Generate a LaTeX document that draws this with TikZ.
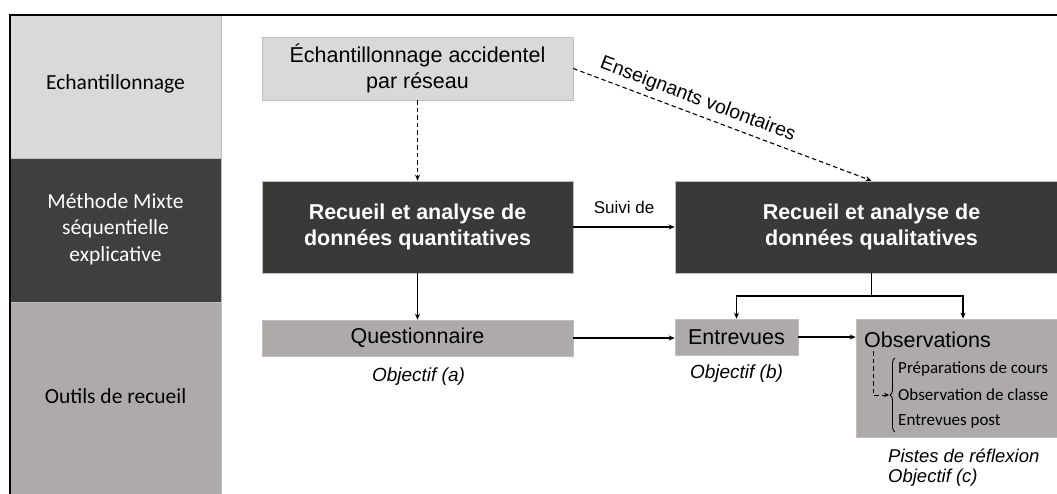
\documentclass[tikz,border=0pt]{standalone}
\usepackage{fontspec}
\setmainfont{Liberation Sans}
\newfontfamily\calfont{Carlito}
\usetikzlibrary{arrows.meta,decorations.pathreplacing}
\definecolor{lgray}{HTML}{D9D9D9}
\definecolor{dgray}{HTML}{3F3F3F}
\definecolor{boxdark}{HTML}{3B3838}
\definecolor{mgray}{HTML}{AEAAAA}
\definecolor{edge}{HTML}{BFBFBF}
\begin{document}
\begin{tikzpicture}[x=1pt,y=-1pt,
  arr/.style={-{Stealth[length=6pt,width=5pt]}, line width=1.1pt},
  dsh/.style={dash pattern=on 4.5pt off 3pt},
  band/.style={rectangle, draw=edge, line width=0.6pt, minimum width=211pt, inner sep=0pt},
  coltxt/.style={font=\calfont\fontsize{21.5}{26.5}\selectfont, align=center, inner sep=0pt},
  boxlight/.style={rectangle, fill=lgray, draw=edge, line width=0.6pt, inner sep=0pt, align=center,
    font=\fontsize{21.5}{26}\selectfont},
  boxdk/.style={rectangle, fill=boxdark, draw=edge, line width=0.6pt, inner sep=0pt, align=center,
    text=white, font=\bfseries\fontsize{21.5}{26}\selectfont},
  boxmid/.style={rectangle, fill=mgray, draw=edge, line width=0.6pt, inner sep=0pt, align=center,
    font=\fontsize{21.5}{26}\selectfont},
  objtxt/.style={font=\itshape\fontsize{19}{24}\selectfont, inner sep=0pt},
  listtxt/.style={font=\calfont\fontsize{17}{20}\selectfont, inner sep=0pt, anchor=west},
]
\useasboundingbox (0,0) rectangle (1057,493);
\clip (0,0) rectangle (1057,493);

% left column bands
\node[band, fill=lgray, minimum height=143pt] (b1) at (115.5,86.5) {};
\node[band, fill=dgray, minimum height=144pt] (b2) at (115.5,230) {};
\node[band, fill=mgray, minimum height=200pt] (b3) at (115.5,402) {};
\node[coltxt] (t1) at (115.5,84) {Echantillonnage};
\node[coltxt, text=white] (t2) at (115.5,229) {Méthode Mixte\\séquentielle\\explicative};
\node[coltxt] (t3) at (115.5,396) {Outils de recueil};

% main boxes
\node[boxlight, minimum width=311pt, minimum height=63pt] (top) at (417.5,68.5)
  {Échantillonnage accidentel\\par réseau};
\node[boxdk, minimum width=311pt, minimum height=92pt] (qtv) at (417.5,227)
  {Recueil et analyse de\\données quantitatives};
\node[boxdk, minimum width=393pt, minimum height=92pt] (qlv) at (871.5,227)
  {Recueil et analyse de\\données qualitatives};
\node[boxmid, minimum width=311pt, minimum height=36pt] (quest) at (417.5,338) {Questionnaire};
\node[boxmid, minimum width=123pt, minimum height=36pt] (entr) at (736.5,337) {Entrevues};
\node[boxmid, minimum width=214pt, minimum height=118pt] (obs) at (963,378) {};
\node[anchor=west, inner sep=0pt, font=\fontsize{21.5}{26}\selectfont] (obst) at (864,340) {Observations};

% labels below
\node[objtxt] (oa) at (418.5,377) {Objectif (a)};
\node[objtxt] (ob) at (736.5,374) {Objectif (b)};
\node[objtxt, anchor=west, font=\itshape\fontsize{18.5}{22}\selectfont] (pr) at (888,456) {Pistes de réflexion};
\node[objtxt, anchor=west, font=\itshape\fontsize{18.5}{22}\selectfont] (oc) at (888,478) {Objectif (c)};

% list inside observations
\node[listtxt] (l1) at (898,369) {Préparations de cours};
\node[listtxt] (l2) at (898,395) {Observation de classe};
\node[listtxt] (l3) at (898,421) {Entrevues post};
\draw[line width=0.9pt, decorate, decoration={brace, amplitude=5pt}] (895,432) -- (895,358);
\coordinate (tip) at (889,395);
\coordinate (ds) at (873,351);
\draw[dsh, line width=0.9pt, -{Stealth[length=5pt,width=4.5pt]}] (ds) |- (tip);

% connectors
\draw[arr, dsh] (top.south) -- (qtv.north);
\draw[arr, dsh] (top.east) -- (qlv.north)
  node[pos=0.4, sloped, above=2pt, inner sep=3pt, font=\fontsize{19.5}{24}\selectfont] (ens) {Enseignants volontaires};
\draw[arr] (qtv.east) -- (qlv.west)
  node[midway, above=10pt, inner sep=3pt, font=\fontsize{17}{20}\selectfont] (sv) {Suivi de};
\draw[arr] (qtv.south) -- (quest.north);
\draw[arr] (quest.east) -- (entr.west |- quest.east);
\draw[arr] (entr.east) -- (entr.east -| obs.west);
\coordinate (br) at (871.5,296);
\draw[line width=1.1pt] (qlv.south) -- (br);
\draw[arr] (br) -| (entr.north);
\draw[arr] (br) -| (obs.north);

% frame
\draw[line width=2pt] (10,500) -- (10,15) -- (1060,15);
\end{tikzpicture}
\end{document}
